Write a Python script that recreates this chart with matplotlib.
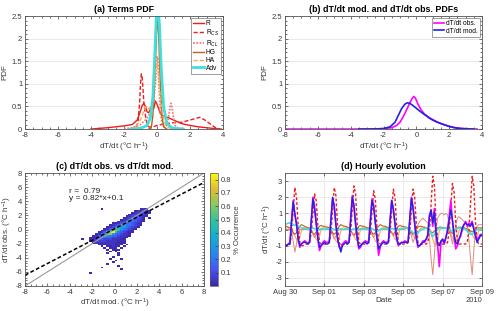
import numpy as np
import matplotlib
matplotlib.use("Agg")
import matplotlib.pyplot as plt
import matplotlib.dates as mdates
from matplotlib.colors import LinearSegmentedColormap
from matplotlib.ticker import AutoMinorLocator

plt.rcParams['font.family'] = ['Liberation Sans', 'DejaVu Sans']
plt.rcParams['mathtext.fontset'] = 'custom'
plt.rcParams['mathtext.rm'] = 'Liberation Sans'
plt.rcParams['mathtext.it'] = 'Liberation Sans:italic'
plt.rcParams['axes.unicode_minus'] = False

# ---------------- (a) Terms PDF ----------------
r_x = [-4, -3, -2, -1.5, -1.2, -1.0, -0.9, -0.8, -0.7, -0.6, -0.5, -0.4, -0.3, -0.2, -0.1, 0.0,
       0.1, 0.2, 0.3, 0.5, 0.7, 1.0, 1.5, 2.0, 2.5, 3.0, 3.5, 3.9]
r_y = [0.0, 0.03, 0.07, 0.1, 0.2, 0.4, 0.52, 0.57, 0.5, 0.38, 0.36, 0.45, 0.52, 0.45, 0.62, 0.55,
       0.45, 0.35, 0.3, 0.27, 0.25, 0.2, 0.12, 0.08, 0.05, 0.03, 0.01, 0.0]
rcs_x = [-1.6, -1.3, -1.15, -1.05, -1.0, -0.95, -0.9, -0.85, -0.8, -0.7, -0.6, -0.5, -0.3, 0.0,
         0.3, 0.6, 1.0, 1.5, 2.0, 2.3, 2.6, 2.9, 3.2, 3.5, 3.8]
rcs_y = [0.0, 0.02, 0.15, 0.6, 1.0, 1.22, 1.15, 0.9, 0.6, 0.3, 0.12, 0.05, 0.04, 0.08,
         0.1, 0.12, 0.14, 0.15, 0.2, 0.23, 0.26, 0.2, 0.12, 0.04, 0.0]
rcl_x = [-2.0, -1.5, -1.0, -0.7, -0.4, -0.2, -0.1, 0.0, 0.05, 0.1, 0.2, 0.3, 0.45, 0.6, 0.7,
         0.8, 0.85, 0.9, 1.0, 1.1, 1.3, 1.6]
rcl_y = [0.0, 0.03, 0.1, 0.2, 0.35, 0.6, 1.0, 1.6, 1.55, 1.1, 0.4, 0.12, 0.05, 0.08, 0.25,
         0.5, 0.57, 0.5, 0.25, 0.08, 0.02, 0.0]
hg_x = [-0.5, -0.35, -0.25, -0.15, -0.05, 0.0, 0.05, 0.1, 0.2, 0.3, 0.4, 0.6]
hg_y = [0.0, 0.02, 0.3, 1.0, 1.9, 2.3, 2.4, 2.1, 1.0, 0.3, 0.05, 0.0]
ha_x = [-1.6, -1.3, -1.0, -0.8, -0.65, -0.5, -0.35, -0.2, -0.1, 0.0, 0.1, 0.2, 0.35, 0.5, 0.7, 1.0]
ha_y = [0.0, 0.05, 0.2, 0.4, 0.5, 0.45, 0.5, 0.9, 1.3, 1.45, 1.2, 0.7, 0.3, 0.1, 0.03, 0.0]
adv_x = [-1.6, -1.2, -0.9, -0.6, -0.4, -0.25, -0.15, -0.05, 0.05, 0.15, 0.25, 0.4, 0.6, 0.9, 1.2, 1.6]
adv_y = [0.0, 0.01, 0.03, 0.08, 0.25, 0.7, 1.5, 2.4, 2.8, 2.3, 1.4, 0.5, 0.12, 0.03, 0.01, 0.0]

# ---------------- (b) obs / mod PDFs ----------------
obs_x = [-8, -6, -4, -3, -2.5, -2, -1.5, -1.2, -1.0, -0.8, -0.6, -0.4, -0.25, -0.15, -0.05, 0.1,
         0.3, 0.5, 0.8, 1.0, 1.3, 1.6, 2.0, 2.4, 2.8, 3.2, 3.7]
obs_y = [0.0, 0.0, 0.0, 0.002, 0.004, 0.01, 0.03, 0.08, 0.15, 0.27, 0.42, 0.58, 0.68, 0.72, 0.68, 0.55,
         0.42, 0.33, 0.25, 0.21, 0.15, 0.11, 0.06, 0.03, 0.015, 0.005, 0.0]
mod_x = [-3.5, -3, -2.5, -2, -1.6, -1.3, -1.1, -0.9, -0.7, -0.55, -0.4, -0.2, 0.0, 0.2, 0.5, 0.8,
         1.1, 1.5, 1.9, 2.3, 2.7, 3.1, 3.5]
mod_y = [0.0, 0.0, 0.002, 0.01, 0.05, 0.15, 0.3, 0.45, 0.55, 0.58, 0.57, 0.52, 0.46, 0.4, 0.32, 0.24,
         0.18, 0.12, 0.07, 0.03, 0.01, 0.003, 0.0]

# ---------------- (c) occurrence grid (bins of 0.25, top row first) ----------------
occ_x0, occ_y0, occ_bin = -3.25, 3.0, 0.25
occ_levels = [0, 0.01, 0.04, 0.08, 0.13, 0.2, 0.3, 0.45, 0.62, 0.83]
occ_rows = [
    "00000000100000000000001210",
    "00000000000000000000122321",
    "00000000000000000001233321",
    "00000000000000000012344310",
    "00000000000000000123443210",
    "00000000000000001234443101",
    "00000000000000012345432100",
    "00000000000000123455432100",
    "00000000000011245554321000",
    "00000000000123456554321000",
    "00000000001235666543210000",
    "00000000012457765432100000",
    "00000000124688754321000000",
    "00000001247997543211000000",
    "00000012468865432210000000",
    "00000124576544322110000000",
    "00001134554433221100000000",
    "01001234433322211000000000",
    "00001233332222111000000000",
    "00000122222221111000000000",
    "00000001112221110100000000",
    "00000000101121101000000000",
    "00000000010111010000000000",
    "00000000001011100000000000",
    "00000000000101000000000000",
    "00000000001000100000000000",
    "00000000000000100000000000",
    "00000000000010000000000000",
    "00000000000100010000000000",
    "00000000000001000000000000",
    "00000000000010000000000000",
    "00000000001000000000000000",
    "00000000000000100000000000",
    "00000000100000000000000000",
    "00000000000000010000000000",
    "00000000000000000000000000",
    "00001000000000000000000000",
]
fit_slope, fit_intercept, fit_r = 0.82, 0.1, 0.79

# ---------------- (d) hourly evolution (2-hourly, one row per day) ----------------
t_start = np.datetime64('2010-08-30T00:00')
d_obs = [
    [-0.9, -1.0, -0.9, -0.8, 0.6, 1.8, 0.9, 0.4, -0.5, -1.1, -0.9, -0.8],
    [-0.7, -0.8, -0.9, -0.7, 0.5, 2.0, 1.4, 0.4, -0.6, -1.3, -1.0, -0.8],
    [-0.7, -0.8, -0.8, -0.7, 0.6, 1.9, 1.5, 0.3, -0.5, -1.1, -1.2, -0.9],
    [-0.8, -0.7, -0.8, -0.8, 0.7, 2.1, 1.4, 0.3, -0.6, -1.2, -1.1, -0.9],
    [-0.8, -0.7, -0.8, -0.7, 0.6, 1.9, 1.5, 0.4, -0.5, -1.6, -1.1, -0.8],
    [-0.7, -0.8, -0.8, -0.7, 0.5, 1.8, 1.3, 0.3, -0.6, -1.0, -0.9, -0.8],
    [-0.8, -0.7, -0.8, -0.7, 0.6, 2.0, 1.4, 0.3, -0.6, -1.1, -1.0, -0.9],
    [-0.7, -0.8, -0.6, -0.4, 0.9, 1.2, 0.2, 1.3, -0.3, -1.0, -2.3, -0.8],
    [-0.6, -0.9, -0.5, 0.0, 0.8, 1.8, 0.5, -0.4, -1.2, -1.0, -0.6, -0.4],
    [0.0, 0.3, 0.5, 0.2, 0.4, 0.3, 0.5, 0.1, -0.3, -0.7, -0.5, -0.3],
    [-0.4],
]
d_mod = [
    [-1.0, -1.0, -0.9, -0.9, 0.5, 1.7, 1.0, 0.3, -0.6, -1.0, -0.9, -0.8],
    [-0.8, -0.8, -0.9, -0.8, 0.6, 1.9, 1.3, 0.4, -0.5, -1.1, -1.0, -0.9],
    [-0.8, -0.9, -0.9, -0.8, 0.7, 2.0, 1.4, 0.3, -0.6, -1.0, -1.4, -1.0],
    [-0.9, -0.8, -0.9, -0.8, 0.6, 2.0, 1.5, 0.4, -0.5, -1.1, -1.0, -0.9],
    [-0.8, -0.8, -0.9, -0.8, 0.5, 1.8, 1.4, 0.5, -0.5, -1.2, -1.0, -0.9],
    [-0.8, -0.8, -0.9, -0.8, 0.6, 1.8, 1.2, 0.4, -0.5, -0.9, -0.9, -0.8],
    [-0.8, -0.8, -0.8, -0.8, 0.7, 1.9, 1.3, 0.4, -0.5, -1.0, -1.0, -0.9],
    [-0.8, -0.7, -0.6, -0.3, 0.8, 1.2, 0.4, 1.1, -0.2, -0.9, -1.0, -0.7],
    [-0.6, -0.8, -0.5, -0.1, 0.6, 1.2, 0.6, -0.3, -0.8, -0.9, -0.6, -0.3],
    [0.1, 0.3, 0.4, 0.3, 0.3, 0.2, 0.4, 0.0, -0.4, -0.8, -0.6, -0.4],
    [-0.3],
]
d_rcs = [
    [-0.9, -1.0, -1.0, -0.9, -0.3, 1.2, 2.6, 2.0, 0.3, -0.8, -1.0, -1.0],
    [-0.9, -0.9, -0.9, -0.8, -0.2, 1.0, 2.2, 1.8, 0.2, -0.8, -0.9, -0.9],
    [-0.9, -0.9, -0.9, -0.8, -0.2, 1.2, 2.6, 2.1, 0.3, -0.8, -1.0, -0.9],
    [-0.9, -0.9, -0.9, -0.8, -0.2, 1.3, 2.7, 2.2, 0.3, -0.8, -0.9, -0.9],
    [-0.9, -0.9, -0.9, -0.8, -0.2, 1.1, 2.4, 1.9, 0.2, -0.8, -0.9, -0.9],
    [-0.9, -0.9, -0.9, -0.8, -0.2, 1.2, 2.5, 2.0, 0.3, -0.8, -0.9, -0.9],
    [-0.9, -0.9, -0.9, -0.8, -0.2, 1.2, 2.5, 2.0, 0.3, -0.8, -0.9, -0.9],
    [-0.9, -0.9, -0.9, -0.8, -0.1, 1.6, 3.3, 2.7, 0.5, -0.7, -0.9, -0.9],
    [-0.9, -0.9, -0.9, -0.8, -0.1, 1.4, 2.85, 2.3, 0.4, -0.7, -0.9, -0.9],
    [-0.9, -0.9, -0.9, -0.8, -0.1, 1.6, 3.3, 2.7, 0.5, -0.7, -0.9, -0.9],
    [-0.9],
]
d_rcl = [
    [0.0, 0.0, 0.0, 0.0, -0.2, -0.7, -1.4, -0.9, -0.2, 0.0, 0.0, 0.0],
    [0.0, 0.0, 0.0, 0.0, -0.1, -0.3, -0.5, -0.3, -0.1, 0.0, 0.0, 0.0],
    [0.0, 0.0, 0.0, 0.0, -0.1, -0.3, -0.6, -0.4, -0.1, 0.0, 0.0, 0.0],
    [0.0, 0.0, 0.0, 0.0, -0.1, -0.2, -0.4, -0.3, -0.1, 0.0, 0.0, 0.0],
    [0.0, 0.0, 0.0, 0.0, -0.1, -0.3, -0.5, -0.3, -0.1, 0.0, 0.0, 0.0],
    [0.0, 0.0, 0.0, 0.0, -0.1, -0.2, -0.4, -0.3, -0.1, 0.0, 0.0, 0.0],
    [0.0, 0.0, 0.1, 0.1, -0.1, -0.4, -0.8, -0.5, 0.0, 0.3, 0.5, 0.6],
    [0.7, 0.6, 0.5, 0.4, -0.6, -1.8, -2.8, -1.6, 0.1, 0.7, 0.9, 1.0],
    [1.0, 0.9, 1.0, 0.9, 0.4, -0.4, -0.9, -0.4, 0.3, 0.7, 0.8, 0.7],
    [0.6, 0.5, 0.5, 0.3, -0.6, -1.8, -2.8, -1.3, 0.0, 0.2, 0.3, 0.3],
    [0.3],
]
d_hg = [
    [0.2, 0.2, 0.15, 0.1, 0.0, -0.2, -0.3, -0.2, 0.0, 0.2, 0.3, 0.25],
    [0.2, 0.15, 0.1, 0.1, -0.05, -0.25, -0.3, -0.15, 0.05, 0.2, 0.25, 0.2],
    [0.2, 0.15, 0.15, 0.1, 0.0, -0.2, -0.3, -0.2, 0.0, 0.2, 0.3, 0.25],
    [0.2, 0.2, 0.15, 0.1, -0.05, -0.25, -0.35, -0.2, 0.0, 0.2, 0.25, 0.2],
    [0.2, 0.15, 0.1, 0.1, 0.0, -0.2, -0.3, -0.2, 0.05, 0.2, 0.3, 0.25],
    [0.2, 0.2, 0.15, 0.1, -0.05, -0.2, -0.3, -0.15, 0.0, 0.2, 0.25, 0.2],
    [0.2, 0.15, 0.15, 0.1, 0.0, -0.2, -0.3, -0.2, 0.0, 0.15, 0.2, 0.2],
    [0.15, 0.15, 0.1, 0.05, -0.05, -0.15, -0.2, -0.1, 0.0, 0.1, 0.15, 0.15],
    [0.1, 0.1, 0.1, 0.05, 0.0, -0.15, -0.25, -0.15, 0.0, 0.1, 0.15, 0.15],
    [0.1, 0.1, 0.05, 0.05, 0.0, -0.1, -0.15, -0.1, 0.0, 0.1, 0.1, 0.1],
    [0.1],
]
d_ha = [
    [0.1, 0.1, 0.1, 0.0, 0.0, -0.2, -0.4, -0.6, -0.8, -0.5, -0.1, 0.1],
    [0.1, 0.1, 0.1, 0.0, -0.1, -0.2, -0.4, -0.6, -0.7, -0.4, 0.0, 0.1],
    [0.1, 0.1, 0.1, 0.0, -0.1, -0.2, -0.5, -0.7, -0.8, -0.5, -0.1, 0.1],
    [0.1, 0.1, 0.1, 0.0, -0.1, -0.2, -0.4, -0.6, -0.7, -0.4, 0.0, 0.1],
    [0.1, 0.1, 0.1, 0.0, -0.1, -0.3, -0.5, -0.7, -0.8, -0.5, -0.1, 0.1],
    [0.1, 0.1, 0.1, 0.0, -0.1, -0.2, -0.4, -0.6, -0.7, -0.4, 0.0, 0.1],
    [0.1, 0.1, 0.1, 0.0, -0.1, -0.2, -0.4, -0.5, -0.6, -0.3, 0.0, 0.1],
    [0.1, 0.1, 0.1, 0.0, -0.1, -0.3, -0.6, -0.9, -1.0, -0.6, -0.1, 0.1],
    [0.1, 0.1, 0.1, 0.0, -0.1, -0.3, -0.5, -0.7, -0.9, -0.5, -0.1, 0.1],
    [0.1, 0.1, 0.1, 0.0, -0.1, -0.2, -0.3, -0.5, -0.6, -0.4, -0.1, 0.0],
    [0.1],
]
d_adv = [
    [0.3, 0.35, 0.4, 0.4, 0.35, 0.3, 0.25, 0.3, 0.2, 0.15, 0.1, 0.1],
    [0.05, 0.05, 0.0, 0.0, 0.05, 0.1, 0.05, 0.0, -0.05, 0.0, 0.05, 0.05],
    [0.0, 0.05, 0.05, 0.0, 0.0, 0.05, 0.0, -0.05, -0.05, 0.0, 0.05, 0.0],
    [0.0, 0.05, 0.05, 0.0, -0.05, 0.0, 0.05, 0.0, -0.05, 0.0, 0.05, 0.05],
    [0.05, 0.05, 0.0, 0.0, 0.0, 0.05, 0.0, -0.05, -0.1, -0.05, 0.0, 0.05],
    [0.05, 0.1, 0.05, 0.0, 0.0, 0.05, 0.05, 0.0, -0.05, 0.0, 0.05, 0.05],
    [0.05, 0.1, 0.1, 0.05, 0.0, -0.1, -0.2, -0.3, -0.35, -0.2, -0.1, 0.0],
    [0.0, 0.05, 0.1, 0.0, -0.1, -0.2, -0.45, -0.3, -0.1, 0.0, 0.1, 0.1],
    [0.05, 0.1, 0.1, 0.05, 0.0, -0.05, -0.1, -0.05, 0.0, 0.05, 0.1, 0.1],
    [0.0, 0.05, 0.0, -0.1, -0.2, -0.3, -0.3, -0.2, -0.1, 0.0, 0.0, -0.05],
    [0.0],
]
date_ticks = ['2010-08-30', '2010-09-01', '2010-09-03', '2010-09-05', '2010-09-07', '2010-09-09']

# colours / styles
C_R = '#ee1c1c'
C_RCL = '#f08080'
C_RCL_D = '#df8a7c'
C_HG = '#b8621b'
C_HA = '#fbaa55'
C_ADV = '#3fe0dc'
C_OBS = '#ff00ff'
C_MOD = '#2222e6'
TXT = '#3a3a3a'
FS_TICK, FS_LAB, FS_TITLE = 5.5, 5.8, 6.4

parula = LinearSegmentedColormap.from_list('parula', [
    (0.00, (0.2422, 0.1504, 0.6603)),
    (0.15, (0.2729, 0.3380, 0.9731)),
    (0.30, (0.1380, 0.5530, 0.9300)),
    (0.45, (0.0650, 0.6940, 0.8200)),
    (0.58, (0.2000, 0.7600, 0.6200)),
    (0.72, (0.5400, 0.7900, 0.3800)),
    (0.86, (0.8800, 0.7400, 0.2000)),
    (1.00, (0.9769, 0.9839, 0.0805))])


def style(ax, minor=True, grid='y'):
    ax.tick_params(direction='in', which='both', top=True, right=True, labelsize=FS_TICK,
                   colors=TXT, width=0.5, length=2.5, pad=2)
    ax.tick_params(which='minor', length=1.3)
    for s in ax.spines.values():
        s.set_color('#555555')
        s.set_linewidth(0.6)
    if minor:
        ax.xaxis.set_minor_locator(AutoMinorLocator(4))
        ax.yaxis.set_minor_locator(AutoMinorLocator(5))
    if grid:
        ax.grid(axis=grid, color='#e6e6e6', linewidth=0.6)
        ax.set_axisbelow(True)


def small_legend(ax, spacing):
    leg = ax.legend(loc='upper right', fontsize=4.8, handlelength=1.6, handletextpad=0.3,
                    borderpad=0.3, labelspacing=spacing, borderaxespad=0.3, fancybox=False)
    leg.get_frame().set_edgecolor('#555555')
    leg.get_frame().set_linewidth(0.5)


unit = '(°C h$^{-1}$)'
fig = plt.figure(figsize=(5, 3.11), dpi=100)

# (a)
ax = fig.add_axes([0.05, 0.585, 0.396, 0.3635])
ax.plot(r_x, r_y, color=C_R, lw=1.0, label='R')
ax.plot(rcs_x, rcs_y, color=C_R, lw=1.0, ls=(0, (3, 1.5)), label='R$_{CS}$')
ax.plot(rcl_x, rcl_y, color=C_RCL, lw=1.3, ls=(0, (1, 0.8)), label='R$_{CL}$')
ax.plot(hg_x, hg_y, color=C_HG, lw=1.0, label='HG')
ax.plot(ha_x, ha_y, color=C_HA, lw=1.0, ls=(0, (3, 1.5)), label='HA')
ax.plot(adv_x, adv_y, color=C_ADV, lw=2.0, label='Adv')
ax.set_xlim(-8, 4)
ax.set_ylim(0, 2.5)
ax.set_yticks([0, 0.5, 1, 1.5, 2, 2.5])
ax.set_yticklabels(['0', '0.5', '1', '1.5', '2', '2.5'])
style(ax)
ax.set_xlabel('dT/dt ' + unit, fontsize=FS_LAB, color=TXT, labelpad=1)
ax.set_ylabel('PDF', fontsize=FS_LAB, color=TXT, labelpad=2)
ax.set_title('(a) Terms PDF', fontsize=FS_TITLE, fontweight='bold', pad=3)
small_legend(ax, 0.1)

# (b)
ax = fig.add_axes([0.57, 0.585, 0.394, 0.3635])
ax.plot(obs_x, obs_y, color=C_OBS, lw=1.2, label='dT/dt obs.')
ax.plot(mod_x, mod_y, color=C_MOD, lw=1.2, label='dT/dt mod.')
ax.set_xlim(-8, 4)
ax.set_ylim(0, 2.5)
ax.set_yticks([0, 0.5, 1, 1.5, 2, 2.5])
ax.set_yticklabels(['0', '0.5', '1', '1.5', '2', '2.5'])
style(ax)
ax.set_xlabel('dT/dt ' + unit, fontsize=FS_LAB, color=TXT, labelpad=1)
ax.set_ylabel('PDF', fontsize=FS_LAB, color=TXT, labelpad=2)
ax.set_title('(b) dT/dt mod. and dT/dt obs. PDFs', fontsize=FS_TITLE, fontweight='bold', pad=3)
small_legend(ax, 0.1)

# (c)
ax = fig.add_axes([0.05, 0.0804, 0.358, 0.3633])
idx = np.array([[int(ch) for ch in row] for row in occ_rows])
occ = np.ma.masked_equal(np.array(occ_levels)[idx], 0)
xe = occ_x0 + occ_bin * np.arange(idx.shape[1] + 1)
ye = occ_y0 - occ_bin * np.arange(idx.shape[0] + 1)
pcm = ax.pcolormesh(xe, ye, occ, cmap=parula, vmin=0, vmax=0.85, shading='flat')
ax.axline((0, 0), slope=1, color='#9a9a9a', lw=0.8)
ax.axline((0, fit_intercept), slope=fit_slope, color='black', lw=1.1, ls=(0, (2.5, 1.5)))
ax.text(-4.1, 4.9, 'r =  %.2f\ny = %.2f*x+%.1f' % (fit_r, fit_slope, fit_intercept),
        fontsize=6, color='#222222', linespacing=1.05, va='center')
ax.set_xlim(-8, 8)
ax.set_ylim(-8, 8)
ax.set_xticks(np.arange(-8, 9, 2))
ax.set_yticks(np.arange(-8, 9, 2))
style(ax, grid=None)
ax.set_xlabel('dT/dt mod. ' + unit, fontsize=FS_LAB, color=TXT, labelpad=1)
ax.set_ylabel('dT/dt obs. ' + unit, fontsize=FS_LAB, color=TXT, labelpad=1)
ax.set_title('(c) dT/dt obs. vs dT/dt mod.', fontsize=FS_TITLE, fontweight='bold', pad=3)

cax = fig.add_axes([0.42, 0.0804, 0.015, 0.3633])
cb = fig.colorbar(pcm, cax=cax)
cb.set_ticks([0.1, 0.2, 0.3, 0.4, 0.5, 0.6, 0.7, 0.8])
cb.ax.tick_params(direction='in', labelsize=FS_TICK, colors=TXT, width=0.5, length=2, pad=2)
cb.outline.set_edgecolor('#555555')
cb.outline.set_linewidth(0.5)
cb.set_label('% Occurrence', fontsize=5.5, color=TXT, labelpad=2)

# (d)
ax = fig.add_axes([0.57, 0.0804, 0.394, 0.3633])
n = sum(len(r) for r in d_obs)
t = t_start + np.arange(n) * np.timedelta64(2, 'h')
ax.plot(t, np.concatenate(d_ha), color=C_HA, lw=0.8)
ax.plot(t, np.concatenate(d_hg), color=C_HG, lw=0.8)
ax.plot(t, np.concatenate(d_rcl), color=C_RCL_D, lw=0.7)
ax.plot(t, np.concatenate(d_rcs), color=C_R, lw=1.0, ls=(0, (2, 1.5)))
ax.plot(t, np.concatenate(d_adv), color=C_ADV, lw=1.2)
ax.plot(t, np.concatenate(d_obs), color=C_OBS, lw=1.2)
ax.plot(t, np.concatenate(d_mod), color=C_MOD, lw=1.0)
ax.set_xlim(t[0], t[-1])
ax.set_ylim(-3.5, 3.5)
ax.set_yticks(np.arange(-3, 4, 1))
ax.set_xticks(np.array(date_ticks, dtype='datetime64[D]'))
ax.xaxis.set_major_formatter(mdates.DateFormatter('%b %d'))
style(ax, minor=False, grid='both')
ax.text(1.0, -0.1, '2010', transform=ax.transAxes, ha='right', va='top',
        fontsize=FS_TICK, color=TXT)
ax.set_xlabel('Date', fontsize=FS_LAB, color=TXT, labelpad=1)
ax.set_ylabel('dT/dt ' + unit, fontsize=FS_LAB, color=TXT, labelpad=1)
ax.set_title('(d) Hourly evolution', fontsize=FS_TITLE, fontweight='bold', pad=3)

fig.savefig('out.png', dpi=100)
